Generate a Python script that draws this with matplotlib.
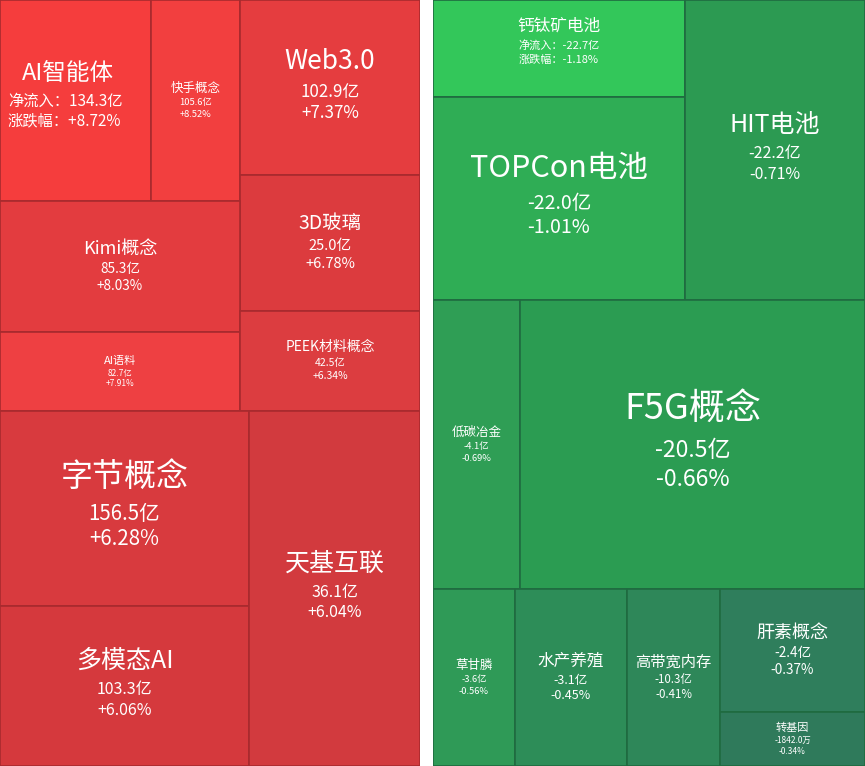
import matplotlib
matplotlib.use("Agg")
import matplotlib.pyplot as plt
from matplotlib.patches import Rectangle

plt.rcParams['font.family'] = ['Noto Sans CJK SC', 'DejaVu Sans']

names = ["AI智能体", "快手概念", "Web3.0", "3D玻璃", "Kimi概念", "AI语料", "PEEK材料概念",
         "字节概念", "多模态AI", "天基互联",
         "钙钛矿电池", "TOPCon电池", "HIT电池", "低碳冶金", "F5G概念",
         "草甘膦", "水产养殖", "高带宽内存", "肝素概念", "转基因"]
flows = ["134.3亿", "105.6亿", "102.9亿", "25.0亿", "85.3亿", "82.7亿", "42.5亿",
         "156.5亿", "103.3亿", "36.1亿",
         "-22.7亿", "-22.0亿", "-22.2亿", "-4.1亿", "-20.5亿",
         "-3.6亿", "-3.1亿", "-10.3亿", "-2.4亿", "-1842.0万"]
pcts = ["+8.72%", "+8.52%", "+7.37%", "+6.78%", "+8.03%", "+7.91%", "+6.34%",
        "+6.28%", "+6.06%", "+6.04%",
        "-1.18%", "-1.01%", "-0.71%", "-0.69%", "-0.66%",
        "-0.56%", "-0.45%", "-0.41%", "-0.37%", "-0.34%"]

# layout (pixel rectangles x0,y0,x1,y1), colours, font sizes, label style
layout = [(0,0,151,201),(151,0,240,201),(240,0,420,175),(240,175,420,311),(0,201,240,332),
          (0,332,240,411),(240,311,420,411),(0,411,249,606),(0,606,249,766),(249,411,420,766),
          (433,0,685,97),(433,97,685,300),(685,0,865,300),(433,300,520,589),(520,300,865,589),
          (433,589,515,766),(515,589,627,766),(627,589,720,766),(720,589,865,712),(720,712,865,766)]
colors = ["#f53d3d","#f23f3f","#e53d3f","#dc3b3e","#e33c3f","#ee4042","#dc3d40",
          "#d83a3e","#d5393d","#d23a3e",
          "#33c75a","#2fad55","#2c9a52","#2f9e55","#2b9c52",
          "#2f9a57","#2d8d58","#2e8759","#2f7e5c","#2f7a5b"]
sizes = [17,9,19,14,13,8,10,23,18,18,12,22,18,9,26,9,12,11,13,8]
styles = ["left"] + ["plain"]*9 + ["labeled"] + ["plain"]*9

W, H = 865, 766
fig = plt.figure(figsize=(W/100, H/100), dpi=100)
ax = fig.add_axes([0,0,1,1])
ax.set_xlim(0, W); ax.set_ylim(H, 0); ax.axis('off')

for n, f, p, (x0,y0,x1,y1), c, s, st in zip(names, flows, pcts, layout, colors, sizes, styles):
    ax.add_patch(Rectangle((x0,y0), x1-x0, y1-y0, facecolor=c, edgecolor="#a82a2e" if x0 < 425 else "#1f6b40", lw=1.2))
    cx, cy = (x0+x1)/2, (y0+y1)/2
    sub = s*0.64 if s >= 17 else s*0.75
    if st == "left":
        ax.text(x0+22, 73, n, fontsize=s, color="white", ha="left", va="center")
        ax.text(x0+8, 101, "净流入：" + f, fontsize=11, color="white", ha="left", va="center")
        ax.text(x0+8, 121, "涨跌幅：" + p, fontsize=11, color="white", ha="left", va="center")
    elif st == "labeled":
        ax.text(cx, cy-22, n, fontsize=s, color="white", ha="center", va="center")
        ax.text(cx, cy-3, "净流入：" + f, fontsize=8, color="white", ha="center", va="center")
        ax.text(cx, cy+11, "涨跌幅：" + p, fontsize=8, color="white", ha="center", va="center")
    else:
        lh = s*1.45
        ax.text(cx, cy-lh*0.95, n, fontsize=s, color="white", ha="center", va="center")
        ax.text(cx, cy+lh*0.15, f, fontsize=sub, color="white", ha="center", va="center")
        ax.text(cx, cy+lh*0.15+sub*1.75, p, fontsize=sub, color="white", ha="center", va="center")

ax.add_patch(Rectangle((420,0), 13, H, facecolor="white", edgecolor="none"))
fig.savefig("out.png", dpi=100, facecolor="white")
